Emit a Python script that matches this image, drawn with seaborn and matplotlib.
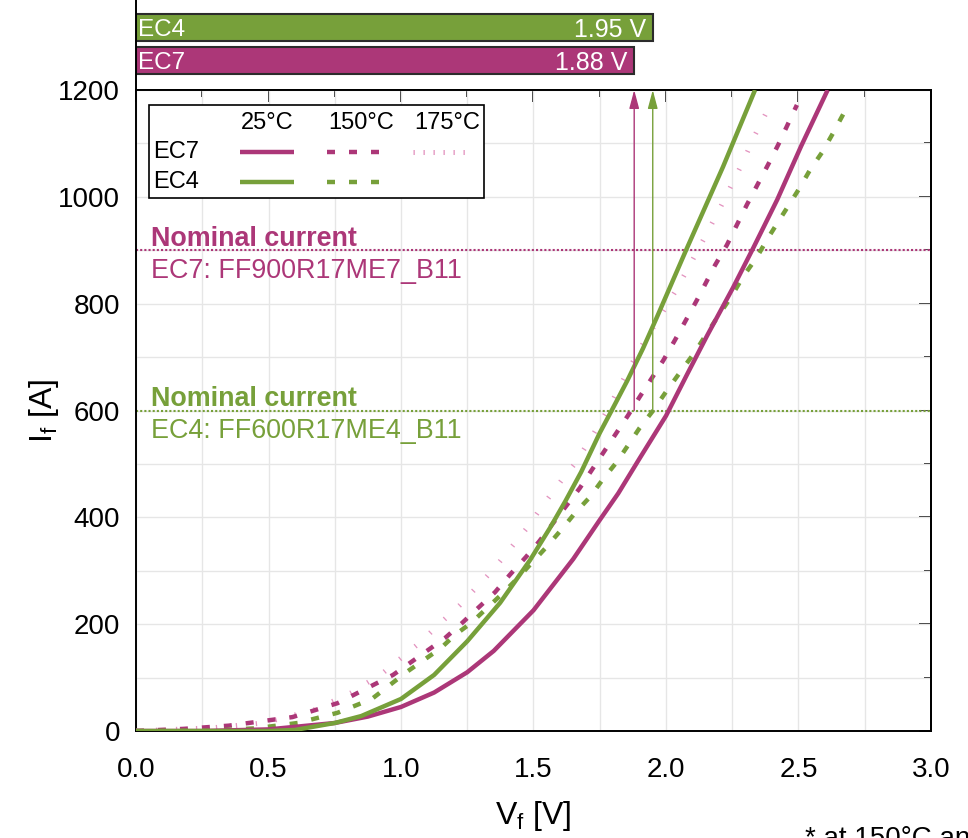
import numpy as np
import pandas as pd
import matplotlib
matplotlib.use("Agg")
import matplotlib.pyplot as plt
from matplotlib.ticker import MultipleLocator, NullFormatter
from matplotlib.lines import Line2D
from matplotlib.patches import Rectangle
import seaborn as sns

# ---------------- data ----------------
ec7_25_v = [0.0, 0.25, 0.5, 0.75, 0.875, 1.0, 1.125, 1.25, 1.35, 1.5, 1.65, 1.75, 1.82, 1.9, 2.0, 2.08, 2.155, 2.253, 2.33, 2.42, 2.51, 2.61]
ec7_25_i = [0, 0, 3, 15, 27, 45, 72, 110, 150, 226, 322, 395, 445, 510, 590, 668, 740, 830, 905, 995, 1095, 1200]

ec4_25_v = [0.0, 0.3, 0.5, 0.6, 0.75, 0.85, 1.0, 1.125, 1.25, 1.374, 1.487, 1.562, 1.62, 1.68, 1.75, 1.796, 1.853, 1.913, 1.966, 2.08, 2.215, 2.336]
ec4_25_i = [0, 0, 0, 2, 15, 28, 60, 105, 168, 240, 320, 380, 430, 485, 558, 601, 655, 716, 775, 905, 1056, 1200]

ec7_150_v = [0.0, 0.18, 0.35, 0.59, 0.76, 0.97, 1.166, 1.23, 1.29, 1.355, 1.41, 1.472, 1.52, 1.626, 1.675, 1.762, 1.857, 1.9, 1.947, 1.99, 2.034, 2.075, 2.117, 2.185, 2.23, 2.305, 2.385, 2.423, 2.494]
ec7_150_i = [0, 4, 10, 26, 52, 105, 174, 202, 230, 260, 292, 326, 354, 423, 455, 520, 591, 625, 661, 694, 732, 769, 807, 872, 910, 985, 1060, 1097, 1172]

ec4_150_v = [0.0, 0.3, 0.45, 0.61, 0.76, 0.89, 1.02, 1.15, 1.204, 1.264, 1.32, 1.38, 1.44, 1.55, 1.607, 1.66, 1.713, 1.76, 1.815, 1.857, 1.9, 1.95, 2.0, 2.045, 2.11, 2.155, 2.2, 2.25, 2.29, 2.343, 2.38, 2.423, 2.468, 2.506, 2.543, 2.59, 2.63, 2.68]
ec4_150_i = [0, 1, 5, 15, 34, 60, 110, 155, 180, 202, 228, 256, 286, 345, 378, 410, 438, 470, 504, 535, 567, 599, 635, 666, 710, 745, 779, 816, 850, 887, 919, 953, 988, 1018, 1050, 1084, 1119, 1165]

ec7_175_v = [0.0, 0.29, 0.48, 0.67, 0.81, 0.93, 1.07, 1.166, 1.223, 1.272, 1.325, 1.374, 1.423, 1.472, 1.536, 1.607, 1.657, 1.713, 1.75, 1.79, 1.82, 1.864, 1.913, 1.958, 2.034, 2.083, 2.147, 2.21, 2.29, 2.336, 2.381, 2.404]
ec7_175_i = [0, 6, 15, 39, 71, 108, 165, 210, 236, 262, 290, 318, 348, 378, 423, 470, 501, 545, 576, 610, 640, 681, 725, 760, 822, 866, 925, 985, 1065, 1116, 1160, 1185]

bar_modules = ["EC4", "EC7"]
bar_values = [1.95, 1.88]          # V_f at 150 °C, 600 A
arrow_current = 600

nominal_modules = ["EC7", "EC4"]
nominal_currents = [900, 600]
nominal_parts = ["EC7: FF900R17ME7_B11", "EC4: FF600R17ME4_B11"]

temps = ["25°C", "150°C", "175°C"]

# ---------------- style ----------------
GREEN = "#77a03a"
MAGENTA = "#ac3778"
PINK = "#e393bf"

sns.set_theme(style="white")
plt.rcParams["font.family"] = ["Liberation Sans", "DejaVu Sans"]
plt.rcParams["mathtext.fontset"] = "custom"
plt.rcParams["mathtext.rm"] = "Liberation Sans"
plt.rcParams["mathtext.it"] = "Liberation Sans:italic"
plt.rcParams["axes.edgecolor"] = "black"

W, H = 968, 838
fig = plt.figure(figsize=(W / 100, H / 100), dpi=100)
ax = fig.add_axes([136 / W, 107 / H, 795 / W, 641 / H])
axb = fig.add_axes([136 / W, 1 - 90 / H, 795 / W, 90 / H])

frames = []
for mod, temp, v, i in [
    ("EC7", "175°C", ec7_175_v, ec7_175_i),
    ("EC7", "150°C", ec7_150_v, ec7_150_i),
    ("EC4", "150°C", ec4_150_v, ec4_150_i),
    ("EC7", "25°C", ec7_25_v, ec7_25_i),
    ("EC4", "25°C", ec4_25_v, ec4_25_i),
]:
    frames.append(pd.DataFrame({"V": v, "I": i, "module": mod, "temp": temp}))
df = pd.concat(frames, ignore_index=True)

colors = {"EC7": MAGENTA, "EC4": GREEN}
styles = {
    "25°C": dict(lw=3.2, ls="-"),
    "150°C": dict(lw=3.2, ls=(0, (1.8, 3.15))),
    "175°C": dict(lw=3.6, ls=(0, (0.26, 3.74))),
}

for (mod, temp), sub in df.groupby(["module", "temp"], sort=False):
    st = styles[temp]
    col = PINK if temp == "175°C" else colors[mod]
    sns.lineplot(data=sub, x="V", y="I", ax=ax, color=col, lw=st["lw"],
                 linestyle=st["ls"], estimator=None, sort=False,
                 dash_capstyle="butt", solid_capstyle="butt",
                 solid_joinstyle="round", zorder=3)

# nominal current lines + labels
for mod, cur, part in zip(nominal_modules, nominal_currents, nominal_parts):
    c = colors[mod]
    ax.axhline(cur, color=c, lw=1.5, ls=(0, (1, 1)), zorder=2)
    ax.annotate("Nominal current", xy=(0.055, cur), xytext=(0, 3),
                textcoords="offset points", ha="left", va="baseline",
                fontsize=19.4, fontweight="bold", color=c)
    ax.annotate(part, xy=(0.055, cur), xytext=(0, -20),
                textcoords="offset points", ha="left", va="baseline",
                fontsize=19.4, color=c)

# arrows from the 600 A level to the top
for mod, v in zip(bar_modules, bar_values):
    ax.annotate("", xy=(v, 1200), xytext=(v, arrow_current),
                arrowprops=dict(arrowstyle="-|>,head_length=0.75,head_width=0.2",
                                mutation_scale=15, color=colors[mod], lw=1.0,
                                shrinkA=0, shrinkB=0), zorder=4)

ax.set_xlim(0, 3)
ax.set_ylim(0, 1200)
ax.xaxis.set_major_locator(MultipleLocator(0.5))
ax.xaxis.set_minor_locator(MultipleLocator(0.25))
ax.yaxis.set_major_locator(MultipleLocator(200))
ax.yaxis.set_minor_locator(MultipleLocator(100))
ax.grid(which="both", color="#e6e6e6", lw=1.0)
ax.set_axisbelow(True)
ax.tick_params(which="major", direction="out", length=8.5, width=1.4,
               labelsize=20, color="black", labelcolor="black")
ax.tick_params(axis="x", which="major", pad=10)
ax.tick_params(axis="y", which="major", pad=3)
ax.tick_params(which="minor", direction="out", length=5, width=1.4, color="black")
for s in ax.spines.values():
    s.set_linewidth(1.4)
    s.set_color("black")

secx = ax.secondary_xaxis("top")
secx.xaxis.set_major_locator(MultipleLocator(0.5))
secx.xaxis.set_minor_locator(MultipleLocator(0.25))
secx.xaxis.set_major_formatter(NullFormatter())
secx.tick_params(which="major", direction="in", length=8.5, width=1.4)
secx.tick_params(which="minor", direction="in", length=5, width=1.4)
secx.spines["top"].set_linewidth(1.4)
secy = ax.secondary_yaxis("right")
secy.yaxis.set_major_locator(MultipleLocator(200))
secy.yaxis.set_minor_locator(MultipleLocator(100))
secy.yaxis.set_major_formatter(NullFormatter())
secy.tick_params(which="major", direction="in", length=8.5, width=1.4)
secy.tick_params(which="minor", direction="in", length=5, width=1.4)
secy.spines["right"].set_linewidth(1.4)

ax.set_xlabel("V$_\\mathregular{f}$ [V]", fontsize=23, labelpad=12, color="black")
ax.set_ylabel("I$_\\mathregular{f}$ [A]", fontsize=23, labelpad=-2, color="black")

# hand-built legend table
lx0, ly0, lw_, lh_ = 0.0164, 0.8315, 0.4213, 0.1451
ax.add_patch(Rectangle((lx0, ly0), lw_, lh_, transform=ax.transAxes,
                       facecolor="white", edgecolor="black", lw=1.2, zorder=6))
head_x = [0.1648, 0.2830, 0.3912]
seg_x = [(0.1308, 0.1987), (0.2403, 0.3057), (0.3484, 0.4138)]
for hx, t in zip(head_x, temps):
    ax.text(hx, 0.9485, t, transform=ax.transAxes, ha="center", va="center",
            fontsize=17, color="black", zorder=7)
legend_rows = [("EC7", 0.9033, temps), ("EC4", 0.8565, temps[:2])]
leg_styles = {
    "25°C": dict(lw=3.2, ls="-"),
    "150°C": dict(lw=3.2, ls=(0, (1.8, 3.15))),
    "175°C": dict(lw=3.6, ls=(0, (0.26, 1.74))),
}
for mod, ry, tlist in legend_rows:
    ax.text(0.0214, ry, mod, transform=ax.transAxes, ha="left", va="center",
            fontsize=17, color="black", zorder=7)
    for t in tlist:
        k = temps.index(t)
        col = PINK if t == "175°C" else colors[mod]
        ax.add_line(Line2D(list(seg_x[k]), [ry, ry], transform=ax.transAxes,
                           color=col, lw=leg_styles[t]["lw"], ls=leg_styles[t]["ls"],
                           dash_capstyle="butt", solid_capstyle="butt", zorder=7))

# top bar panel
bar_df = pd.DataFrame({"module": bar_modules, "vf": bar_values})
sns.barplot(data=bar_df, x="vf", y="module", hue="module", orient="h",
            palette=[GREEN, MAGENTA], width=0.82, edgecolor="#2b2b2b",
            linewidth=1.5, legend=False, ax=axb, saturation=1)
axb.set_xlim(0, 3)
axb.set_ylim(1.894, -0.833)
for s in ["top", "right", "bottom"]:
    axb.spines[s].set_visible(False)
axb.spines["left"].set_linewidth(1.4)
axb.spines["left"].set_color("black")
axb.set_xticks([])
axb.set_yticks([])
axb.set_xlabel("")
axb.set_ylabel("")
axb.set_facecolor("none")
for k, (m, v) in enumerate(zip(bar_modules, bar_values)):
    axb.text(0.008, k, m, color="white", ha="left", va="center_baseline", fontsize=17.5)
    axb.annotate(f"{v:.2f} V", xy=(v, k), xytext=(-5, 0), textcoords="offset points",
                 ha="right", va="center_baseline", color="white", fontsize=18)

fig.text(805 / W, 1 - 846 / H, "* at 150°C and 600 A", ha="left", va="baseline",
         fontsize=20, color="black")

fig.savefig("out.png", dpi=100, facecolor="white")
